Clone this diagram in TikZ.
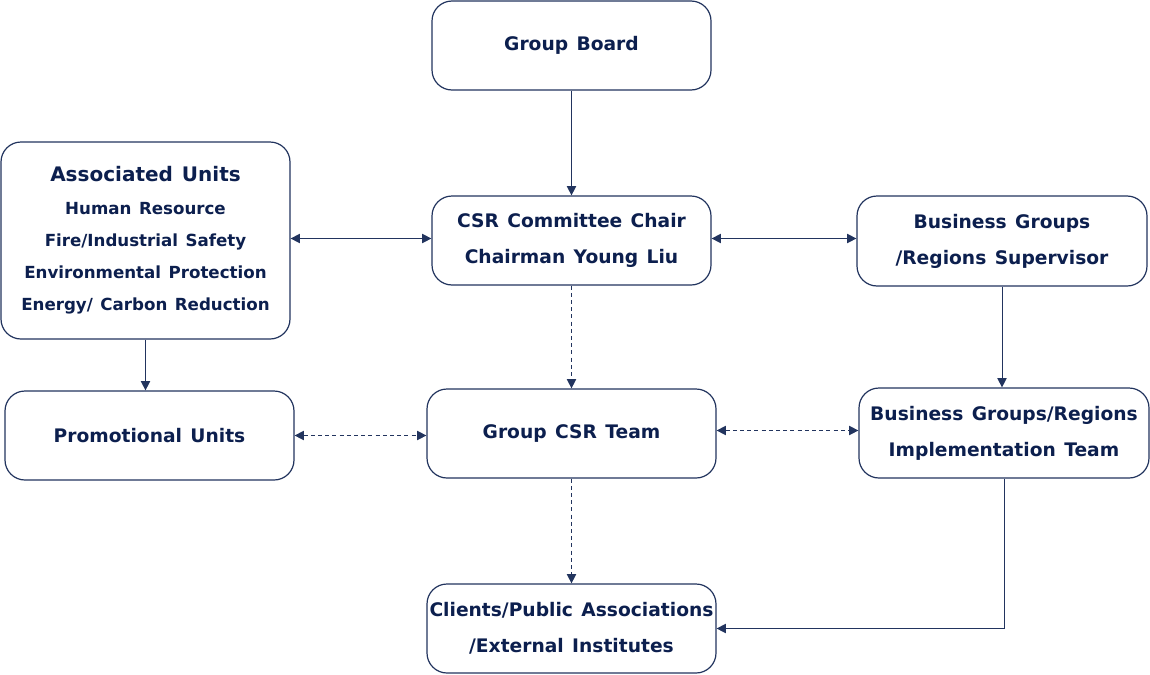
\documentclass[tikz,border=0pt]{standalone}
\usepackage{fontspec}
\setmainfont{DejaVu Sans}
\usetikzlibrary{arrows.meta,calc}
\definecolor{navy}{HTML}{0C1F4E}
\definecolor{navyline}{HTML}{22345E}
\newcommand{\widesp}{\spaceskip=0.45em plus 0.1em\relax}
\newcommand{\subf}{\fontsize{12.5}{24}\selectfont\widesp}
\begin{document}
\begin{tikzpicture}[x=0.75pt,y=-0.75pt,
  box/.style={draw=navyline,line width=0.9pt,rounded corners=15pt,fill=white,
    text=navy,align=center,inner sep=0pt,
    font=\fontsize{14}{27}\selectfont\bfseries,
    execute at begin node=\widesp},
  conn/.style={navyline,line width=0.75pt},
  onetip/.style={-{Triangle[length=7pt,width=7pt]}},
  twotip/.style={{Triangle[length=7pt,width=7pt]}-{Triangle[length=7pt,width=7pt]}},
  dashline/.style={dash pattern=on 3pt off 2.4pt}]
\useasboundingbox (0,0) rectangle (1150,675);
\node[box,minimum width=209.25pt,minimum height=66.75pt] (GB) at (571.5,45.5) {Group Board};
\node[box,minimum width=216.75pt,minimum height=147.75pt,font=\fontsize{14}{24}\selectfont\bfseries] (AU) at (145.5,240.5)
  {\fontsize{15}{24}\selectfont\widesp Associated Units\\[0.5pt]\subf Human Resource\\\subf Fire/Industrial Safety\\\subf Environmental Protection\\\subf Energy/ Carbon Reduction};
\node[box,minimum width=209.25pt,minimum height=66.75pt] (CSR) at (571.5,240.5) {CSR Committee Chair\\Chairman Young Liu};
\node[box,minimum width=217.5pt,minimum height=67.5pt] (SUP) at (1002,241) {Business Groups\\/Regions Supervisor};
\node[box,minimum width=216.75pt,minimum height=66.75pt] (PU) at (149.5,435.5) {Promotional Units};
\node[box,minimum width=216.75pt,minimum height=66.75pt] (GCT) at (571.5,433.5) {Group CSR Team};
\node[box,minimum width=217.5pt,minimum height=67.5pt] (IMP) at (1004,433) {Business Groups/Regions\\Implementation Team};
\node[box,minimum width=216.75pt,minimum height=66.75pt] (CL) at (571.5,628.5) {Clients/Public Associations\\/External Institutes};

\draw[conn,onetip] (GB.south) -- (CSR.north);
\draw[conn,twotip] ([yshift=1.5pt]AU.east) -- ([yshift=1.5pt]AU.east -| CSR.west);
\draw[conn,twotip] ([yshift=1.5pt]CSR.east) -- ([yshift=1.5pt]CSR.east -| SUP.west);
\draw[conn,dashline,onetip] (CSR.south) -- (GCT.north);
\draw[conn,onetip] (AU.south) -- (AU.south |- PU.north);
\draw[conn,dashline,twotip] (PU.east) -- (PU.east -| GCT.west);
\draw[conn,dashline,twotip] ([yshift=2.25pt]GCT.east) -- ([yshift=2.25pt]GCT.east -| IMP.west);
\draw[conn,onetip] (SUP.south) -- (SUP.south |- IMP.north);
\draw[conn,dashline,onetip] (GCT.south) -- (CL.north);
\draw[conn,onetip] (IMP.south) |- (CL.east);
\end{tikzpicture}
\end{document}
